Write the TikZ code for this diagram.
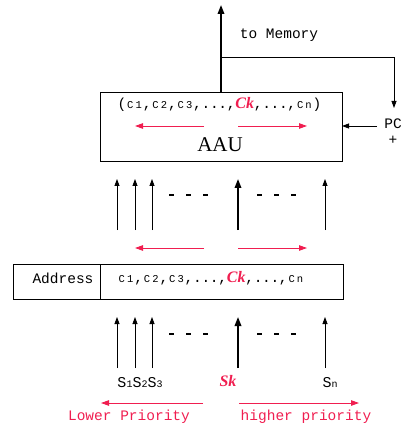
\documentclass[tikz,border=0pt]{standalone}
\usepackage{fontspec}
\setmainfont{Liberation Serif}
\setmonofont{Liberation Mono}
\usetikzlibrary{arrows.meta}
\definecolor{pr}{RGB}{240,30,80}
\newcommand{\smc}[1]{\makebox[8.4pt]{\fontsize{10.5}{10.5}\selectfont #1}}
\newcommand{\cnum}[1]{\smc{C}\smc{#1}}
\newcommand{\bigc}[1]{\makebox[8.4pt]{#1}}
\newcommand{\ckred}{{\color{pr}\rmfamily\bfseries\itshape\fontsize{16}{16}\selectfont Ck}}
\begin{document}
\begin{tikzpicture}[x=1pt,y=-1pt,
  box/.style={draw, line width=0.8pt, inner sep=0pt, outer sep=0pt},
  up/.style={-{Triangle[length=7pt,width=5pt]}, line width=0.8pt},
  upthick/.style={-{Triangle[length=9pt,width=6.5pt]}, line width=1.8pt},
  redarrow/.style={draw=pr, line width=0.9pt, -{Triangle[length=8pt,width=5.5pt]}, pr},
  dotrow/.style={line width=2pt, dash pattern=on 5pt off 12pt},
  mono/.style={font=\ttfamily\fontsize{14.5}{15}\selectfont, inner sep=0pt},
  lab/.style={inner sep=0pt}]
\useasboundingbox (0,0) rectangle (404,430);

% AAU box
\node[box, minimum width=242pt, minimum height=69pt] (aau) at (221,126.5) {};
\node[mono] (clist) at (219.5,104) {\bigc{(}\cnum{1}\bigc{,}\cnum{2}\bigc{,}\cnum{3}\bigc{,}\bigc{.}\bigc{.}\bigc{.}\bigc{,}\ckred\bigc{,}\bigc{.}\bigc{.}\bigc{.}\bigc{,}\smc{C}\smc{n}\bigc{)}};
\node[lab, font=\rmfamily\fontsize{21}{21}\selectfont] (aaulab) at (220,145) {AAU};
\coordinate (ra1s) at (204,126); \coordinate (ra1e) at (135,126);
\coordinate (ra2s) at (238,126); \coordinate (ra2e) at (307,126);
\draw[redarrow] (ra1s) -- (ra1e);
\draw[redarrow] (ra2s) -- (ra2e);

% top: to memory
\coordinate (top) at (221,5);
\draw[upthick] (aau.north) -- (top);
\node[mono] (mem) at (279,35) {to Memory};
\coordinate (br) at (221,57);
\coordinate (pcin) at (394,108);
\draw[up] (br) -| (pcin);
\node[mono] (pc) at (393,124) {PC};
\node[mono] (plus) at (393,140) {+};
\coordinate (pcl) at (377,126);
\draw[up] (pcl) -- (pcl -| aau.east);

% middle arrows
\foreach \x [count=\i] in {117,135,152,325} {
  \coordinate (mb\i) at (\x,230); \coordinate (mt\i) at (\x,179);
  \draw[up] (mb\i) -- (mt\i);
}
\coordinate (mbk) at (238,230); \coordinate (mtk) at (238,179);
\draw[upthick] (mbk) -- (mtk);
\coordinate (md1a) at (169,195); \coordinate (md1b) at (210,195);
\coordinate (md2a) at (257,195); \coordinate (md2b) at (298,195);
\draw[dotrow] (md1a) -- (md1b);
\draw[dotrow] (md2a) -- (md2b);
\coordinate (rb1s) at (204,248); \coordinate (rb1e) at (135,248);
\coordinate (rb2s) at (238,248); \coordinate (rb2e) at (307,248);
\draw[redarrow] (rb1s) -- (rb1e);
\draw[redarrow] (rb2s) -- (rb2e);

% Address box
\node[box, minimum width=87pt, minimum height=35pt] (addrL) at (56.5,281.5) {};
\node[box, minimum width=243pt, minimum height=35pt] (addrR) at (221.5,281.5) {};
\node[mono] (addr) at (63,278) {Address};
\node[mono] (alist) at (211,278) {\cnum{1}\bigc{,}\cnum{2}\bigc{,}\cnum{3}\bigc{,}\bigc{.}\bigc{.}\bigc{.}\bigc{,}\ckred\bigc{,}\bigc{.}\bigc{.}\bigc{.}\bigc{,}\smc{C}\smc{n}};

% bottom arrows
\foreach \x [count=\i] in {117,135,152,325} {
  \coordinate (bb\i) at (\x,368); \coordinate (bt\i) at (\x,317);
  \draw[up] (bb\i) -- (bt\i);
}
\coordinate (bbk) at (238,368); \coordinate (btk) at (238,317);
\draw[upthick] (bbk) -- (btk);
\coordinate (bd1a) at (169,334); \coordinate (bd1b) at (210,334);
\coordinate (bd2a) at (257,334); \coordinate (bd2b) at (298,334);
\draw[dotrow] (bd1a) -- (bd1b);
\draw[dotrow] (bd2a) -- (bd2b);

% labels
\node[lab, font=\ttfamily\fontsize{15}{15}\selectfont] (s123) at (140,383)
  {S{\fontsize{10}{10}\selectfont 1}S{\fontsize{10}{10}\selectfont 2}S{\fontsize{10}{10}\selectfont 3}};
\node[lab, text=pr, font=\rmfamily\bfseries\itshape\fontsize{16}{16}\selectfont] (sk) at (228,381) {Sk};
\node[lab, font=\ttfamily\fontsize{15}{15}\selectfont] (sn) at (330,383) {S{\fontsize{10}{10}\selectfont n}};

\coordinate (rc1s) at (203,403); \coordinate (rc1e) at (101,403);
\coordinate (rc2s) at (239,403); \coordinate (rc2e) at (359,403);
\draw[redarrow] (rc1s) -- (rc1e);
\draw[redarrow] (rc2s) -- (rc2e);
\node[mono, text=pr] (lp) at (129,417) {Lower Priority};
\node[mono, text=pr] (hp) at (306,417) {higher priority};
\end{tikzpicture}
\end{document}
